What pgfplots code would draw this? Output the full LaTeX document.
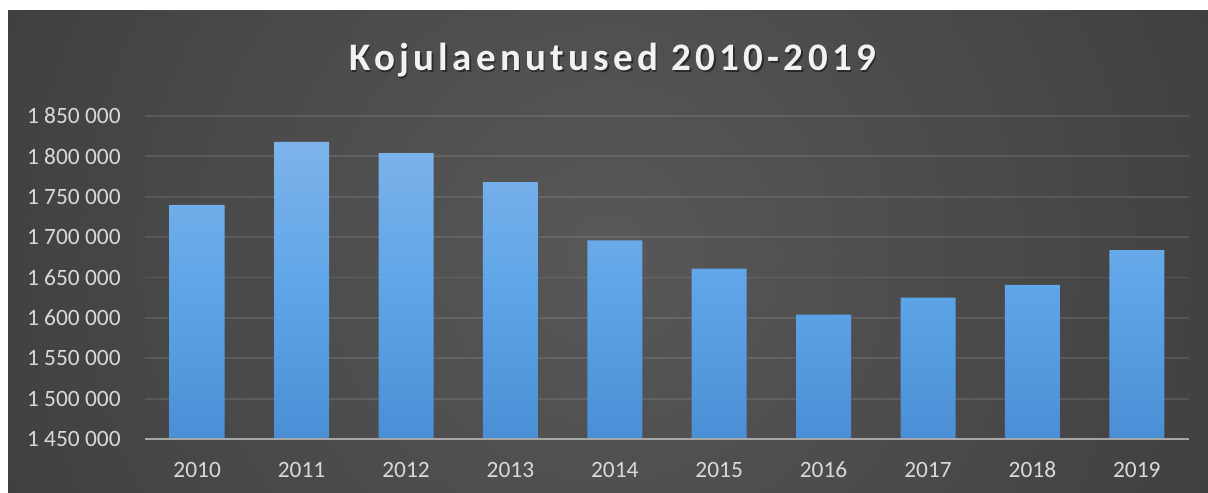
\documentclass[border=0pt]{standalone}
\usepackage{fontspec}
\setmainfont{Carlito}
\newfontfamily\titlefont[LetterSpace=11]{Carlito}
\usepackage{pgfplots}
\pgfplotsset{compat=1.18}
\definecolor{bgc}{HTML}{585858}
\definecolor{bge}{HTML}{272727}
\definecolor{labc}{HTML}{D9D9D9}
\definecolor{axc}{HTML}{A6A6A6}
\definecolor{bart}{HTML}{7DB3EA}
\definecolor{barm}{HTML}{5EA5E8}
\definecolor{barb}{HTML}{4A8FD5}
\pgfdeclareradialshading{bgshade}{\pgfpoint{0bp}{0bp}}{color(0bp)=(bgc); color(50bp)=(bge); color(100bp)=(bge)}
\begin{document}
\begin{tikzpicture}
\fill[white] (0,0) rectangle (604bp,246.5bp);
\begin{scope}
\clip (4bp,0) rectangle (604bp,241bp);
\shade[shading=bgshade] (304bp,120bp) circle (330bp);
\end{scope}
\begin{axis}[at={(72.5bp,27bp)}, anchor=south west,
  width=522bp, height=161.5bp, scale only axis,
  xmin=-0.5, xmax=9.5, ymin=1450000, ymax=1850000,
  scaled y ticks=false,
  xtick={0,1,2,3,4,5,6,7,8,9},
  xticklabels={2010,2011,2012,2013,2014,2015,2016,2017,2018,2019},
  ytick={1450000,1500000,1550000,1600000,1650000,1700000,1750000,1800000,1850000},
  yticklabels={1 450 000,1 500 000,1 550 000,1 600 000,1 650 000,1 700 000,1 750 000,1 800 000,1 850 000},
  axis line style={draw=none}, major tick length=0pt,
  ymajorgrids, major grid style={white, opacity=0.1, line width=0.9bp},
  tick label style={font=\fontsize{11.7bp}{14bp}\selectfont, color=labc},
  yticklabel style={inner sep=0pt, xshift=-12bp},
  xticklabel style={inner sep=0pt, anchor=base, yshift=-19bp},
  clip=false]
\addplot[ybar, bar width=27.5bp, draw=none, top color=bart, bottom color=barb, middle color=barm] coordinates {
 (0,1740000) (1,1818000) (2,1804000) (3,1768000) (4,1696000)
 (5,1661000) (6,1604000) (7,1625000) (8,1641000) (9,1684000)};
\draw[axc, line width=1bp] (rel axis cs:0,0) -- (rel axis cs:1,0);
\end{axis}
\node[anchor=base, text=black, opacity=0.45, inner sep=0pt] at (307bp,210.3bp) {\titlefont\bfseries\fontsize{19.5bp}{22bp}\selectfont Kojulaenutused 2010-2019};
\node[anchor=base, text=white!95!black, inner sep=0pt] at (306.25bp,211bp) {\titlefont\bfseries\fontsize{19.5bp}{22bp}\selectfont Kojulaenutused 2010-2019};
\end{tikzpicture}
\end{document}
